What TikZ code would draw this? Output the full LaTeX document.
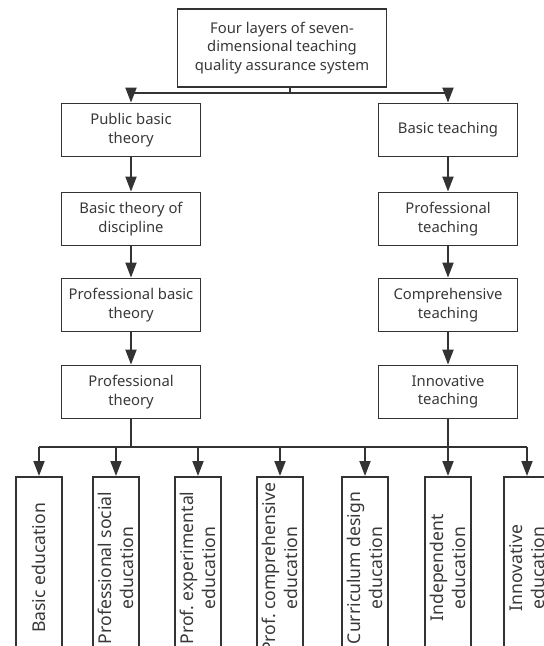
\documentclass[tikz,border=0pt]{standalone}
\usepackage{fontspec}
\setmainfont{Noto Sans}
\usetikzlibrary{positioning, arrows.meta}
\definecolor{linegray}{HTML}{333333}
\definecolor{textgray}{HTML}{383838}

\begin{document}
\begin{tikzpicture}[x=1pt, y=-1pt,
    box/.style={draw=linegray, line width=1.8pt, text=textgray, align=center,
      font=\fontsize{14.8}{18.5}\selectfont, minimum width=139pt, minimum height=53pt, inner sep=1pt},
    edubox/.style={box, rotate=90, anchor=east, minimum width=182pt, minimum height=46pt,
      font=\fontsize{17.6}{22.5}\selectfont},
    link/.style={draw=linegray, line width=1.8pt},
    arrow/.style={link, -{Triangle[length=15pt, width=11pt]}}]
  \clip (0,0) rectangle (544,646);
  \node[box, minimum width=209pt, minimum height=78pt] (top) at (282,48)
    {Four layers of seven-\\dimensional teaching\\quality assurance system};
  % theory column
  \node[box] (theory1) at (131,130) {Public basic\\theory};
  \node[box] (theory2) at (131,219) {Basic theory of\\discipline};
  \node[box] (theory3) at (131,305) {Professional basic\\theory};
  \node[box] (theory4) at (131,392) {Professional\\theory};
  % teaching column
  \node[box] (teach1) at (448,130) {Basic teaching};
  \node[box] (teach2) at (448,219) {Professional\\teaching};
  \node[box] (teach3) at (448,305) {Comprehensive\\teaching};
  \node[box] (teach4) at (448,392) {Innovative\\teaching};
  % education boxes
  \foreach \x/\txt [count=\i] in {39/{Basic education}, 116/{Professional social\\education},
      198/{Prof.\ experimental\\education}, 280/{Prof.\ comprehensive\\education},
      365/{Curriculum design\\education}, 448/{Independent\\education}, 527/{Innovative\\education}}
    \node[edubox] (edu\i) at (\x,476) {\txt};

  \coordinate (fork) at (290,93);
  \coordinate (rail) at (0,447);
  \draw[link] (top.south -| fork) -- (fork);
  \draw[arrow] (fork) -| (theory1.north);
  \draw[arrow] (fork) -| (teach1.north);
  \foreach \a/\b in {1/2, 2/3, 3/4} {
    \draw[arrow] (theory\a) -- (theory\b);
    \draw[arrow] (teach\a) -- (teach\b);
  }
  \draw[link] (theory4.south) -- (theory4.south |- rail);
  \draw[link] (teach4.south) -- (teach4.south |- rail);
  \draw[link] (edu1.east |- rail) -- (edu7.east |- rail);
  \foreach \i in {1,...,7}
    \draw[arrow] (edu\i.east |- rail) -- (edu\i.east);
\end{tikzpicture}
\end{document}
